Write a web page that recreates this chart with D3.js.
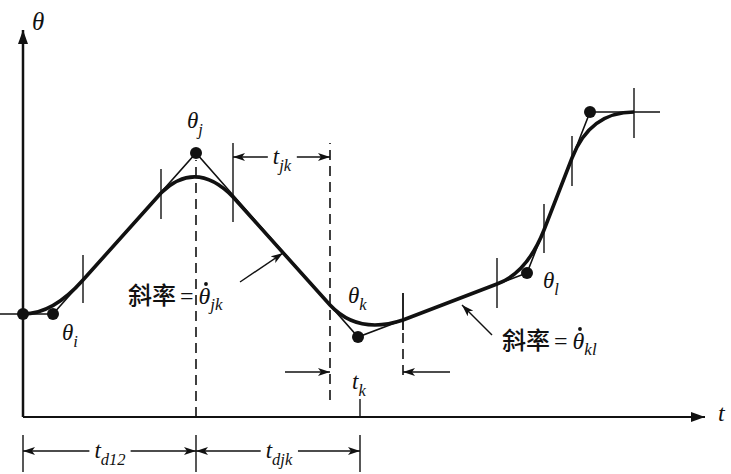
<!DOCTYPE html>
<html>
<head>
<meta charset="utf-8">
<script src="https://cdn.jsdelivr.net/npm/d3@7"></script>
<style>
  body { margin: 0; background: #fff; }
  text { fill: #111; }
</style>
</head>
<body>
<svg width="731" height="474"></svg>
<script>
// data units: t along the time axis, theta up the angle axis
const viaDotT = [0, 30, 173, 335, 504, 567];
const viaDotTheta = [103, 103, 264, 80, 144, 305];

// thin straight segments through the via points
const polyT = [-23, 30, 173, 335, 504, 567, 637];
const polyTheta = [103, 103, 264, 80, 144, 305, 305];

// parabolic blends: start, corner, end
const blendStartT = [0, 138, 307, 474, 549];
const blendStartTheta = [103, 224, 112, 133, 259];
const blendCornerT = [30, 173, 335, 504, 567];
const blendCornerTheta = [103, 258, 82, 144, 305];
const blendEndT = [60, 210, 380, 521, 611];
const blendEndTheta = [137, 220, 97, 187, 305];

// short vertical marks at blend boundaries
const tickT = [60, 138, 210, 380, 474, 521, 549, 611];
const tickTop = [162, 248, 274, 124, 159, 213, 281, 329];
const tickBot = [114, 198, 195, 87, 109, 164, 231, 279];

// dashed verticals
const dashT = [173, 307, 380];
const dashTop = [257, 274, 87];
const dashBot = [0, 17, 42];

const x = d3.scaleLinear().domain([0, 682]).range([23, 705]);
const y = d3.scaleLinear().domain([0, 392]).range([417, 25]);

const svg = d3.select("svg");
const defs = svg.append("defs");

defs.append("marker")
  .attr("id", "head")
  .attr("viewBox", "0 0 12 8")
  .attr("refX", 12).attr("refY", 4)
  .attr("markerWidth", 12).attr("markerHeight", 8)
  .attr("markerUnits", "userSpaceOnUse")
  .attr("orient", "auto")
  .append("path").attr("d", "M0,0 L12,4 L0,8 L3,4 Z").attr("fill", "#111");

defs.append("marker")
  .attr("id", "bighead")
  .attr("viewBox", "0 0 14 10")
  .attr("refX", 14).attr("refY", 5)
  .attr("markerWidth", 14).attr("markerHeight", 10)
  .attr("markerUnits", "userSpaceOnUse")
  .attr("orient", "auto")
  .append("path").attr("d", "M0,0 L14,5 L0,10 Z").attr("fill", "#111");

const line = (t0, th0, t1, th1) =>
  svg.append("line")
    .attr("x1", x(t0)).attr("y1", y(th0))
    .attr("x2", x(t1)).attr("y2", y(th1))
    .attr("stroke", "#111");

// axes
line(0, 0, 0, 387).attr("stroke-width", 2.5).attr("marker-end", "url(#bighead)");
line(0, 0, 682, 0).attr("stroke-width", 2.2).attr("marker-end", "url(#bighead)");

// thin polyline
svg.append("path")
  .attr("d", d3.line().x((d) => x(d[0])).y((d) => y(d[1]))(polyT.map((t, i) => [t, polyTheta[i]])))
  .attr("fill", "none").attr("stroke", "#111").attr("stroke-width", 1.6);

// thick blended trajectory
let dPath = "";
blendStartT.forEach((t, i) => {
  dPath += (i === 0 ? "M" : "L") + x(t) + "," + y(blendStartTheta[i]);
  dPath += "Q" + x(blendCornerT[i]) + "," + y(blendCornerTheta[i]) + " " + x(blendEndT[i]) + "," + y(blendEndTheta[i]);
});
svg.append("path").attr("d", dPath)
  .attr("fill", "none").attr("stroke", "#111").attr("stroke-width", 3.6)
  .attr("stroke-linejoin", "round");

// blend marks
tickT.forEach((t, i) => line(t, tickBot[i], t, tickTop[i]).attr("stroke-width", 1.4));

// dashed lines
dashT.forEach((t, i) =>
  line(t, dashBot[i], t, dashTop[i]).attr("stroke-width", 1.6).attr("stroke-dasharray", "10,6"));
line(380, 87, 380, 124).attr("stroke-width", 1.4);

// via points
svg.selectAll("circle.via")
  .data(viaDotT)
  .join("circle")
  .attr("class", "via")
  .attr("cx", (d) => x(d))
  .attr("cy", (d, i) => y(viaDotTheta[i]))
  .attr("r", 6)
  .attr("fill", "#111");

// labels
const serif = "'Liberation Serif', 'DejaVu Serif', serif";
function label(t, th, main, sub, size, anchor) {
  const txt = svg.append("text")
    .attr("x", x(t)).attr("y", y(th))
    .attr("font-family", serif)
    .attr("font-style", "italic")
    .attr("font-size", size)
    .attr("text-anchor", anchor || "start");
  txt.append("tspan").text(main);
  if (sub) txt.append("tspan").attr("dy", size * 0.3).attr("font-size", size * 0.72).text(sub);
  return txt;
}

label(9, 387, "θ", null, 25);
label(695, -4, "t", null, 24);
label(164, 289, "θ", "j", 23);
label(39, 77, "θ", "i", 23);
label(325, 114, "θ", "k", 23);
label(520, 129, "θ", "l", 23);

// slope notes
function slope(t, th, sub) {
  const g = svg.append("text")
    .attr("x", x(t)).attr("y", y(th))
    .attr("font-size", 24);
  g.append("tspan").attr("font-family", "'Noto Sans CJK SC', sans-serif").attr("font-weight", 500).text("斜率");
  g.append("tspan").attr("font-family", serif).attr("dx", 4).text("=");
  const th_ = g.append("tspan").attr("font-family", serif).attr("font-style", "italic").attr("dx", 5).text("θ");
  g.append("tspan").attr("font-family", serif).attr("font-style", "italic")
    .attr("font-size", 17).attr("dy", 6).text(sub);
  const b = th_.node().getBBox();
  svg.append("circle")
    .attr("cx", b.x + b.width * 0.62).attr("cy", b.y + 1)
    .attr("r", 1.9).attr("fill", "#111");
}
slope(105, 113, "jk");
slope(479, 68, "kl");

line(217, 135, 260, 164).attr("stroke-width", 1.4).attr("marker-end", "url(#head)");
line(469, 82, 439, 112).attr("stroke-width", 1.4).attr("marker-end", "url(#head)");

// dimension arrows with a gap for the label
function dim(t0, t1, th, main, sub, labelT) {
  const lab = label(labelT, th - 7, main, sub, 23, "middle");
  const b = lab.node().getBBox();
  line(x.invert(b.x - 5), th, t0, th).attr("stroke-width", 1.4).attr("marker-end", "url(#head)");
  line(x.invert(b.x + b.width + 5), th, t1, th).attr("stroke-width", 1.4).attr("marker-end", "url(#head)");
}
dim(210, 307, 260, "t", "jk", 259);
dim(0, 173, -34, "t", "d12", 87);
dim(173, 337, -34, "t", "djk", 256);

// t_k
line(262, 45, 307, 45).attr("stroke-width", 1.4).attr("marker-end", "url(#head)");
line(427, 45, 380, 45).attr("stroke-width", 1.4).attr("marker-end", "url(#head)");
label(329, 28, "t", "k", 23);

// vertical extents under the axis
[0, 173, 337].forEach((t) => line(t, -18, t, -55).attr("stroke-width", 1.4));
line(337, 0, 337, 18).attr("stroke-width", 1.4);
</script>
</body>
</html>
